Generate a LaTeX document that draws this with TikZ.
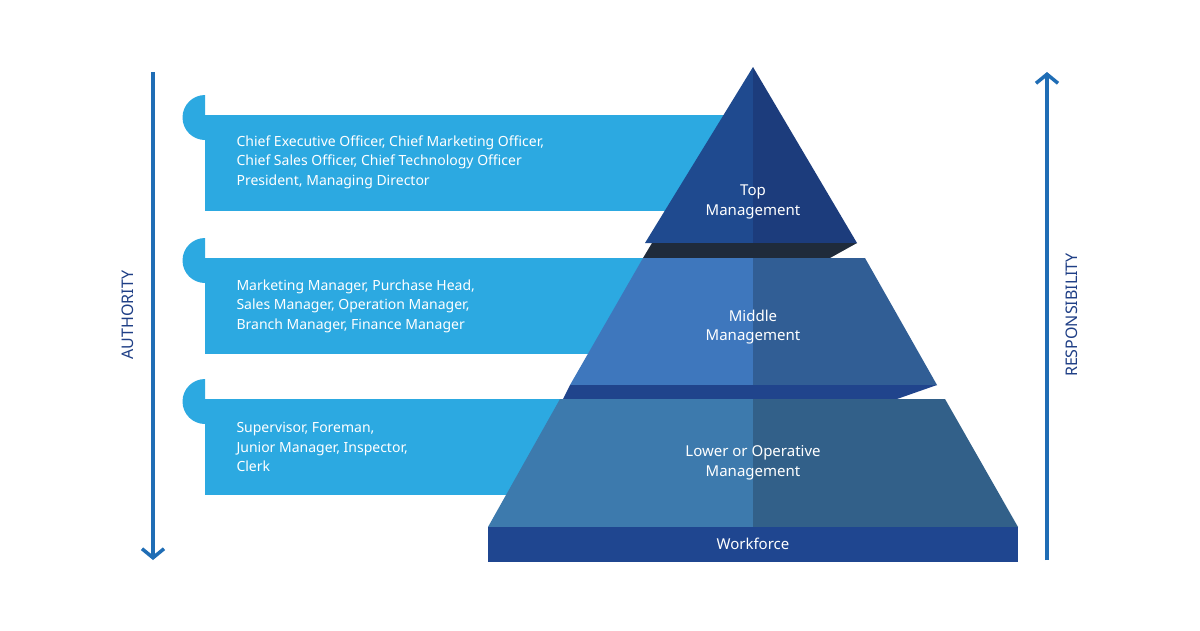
\documentclass[tikz,border=0pt]{standalone}
\usepackage{fontspec}
\setmainfont{Noto Sans}
\usetikzlibrary{arrows.meta}
\definecolor{bandblue}{HTML}{2CA9E1}
\definecolor{axisblue}{HTML}{1F6DB5}
\definecolor{axistext}{HTML}{1F3F86}
\definecolor{topL}{HTML}{1F4A8F}
\definecolor{topR}{HTML}{1C3C7C}
\definecolor{stripA}{HTML}{1F2B3B}
\definecolor{midL}{HTML}{3E77BD}
\definecolor{midR}{HTML}{315E95}
\definecolor{stripB}{HTML}{20448C}
\definecolor{lowL}{HTML}{3D7AAD}
\definecolor{lowR}{HTML}{326089}
\definecolor{workblue}{HTML}{1F4690}
\tikzset{
  axis/.style={draw=axisblue,line width=3.5pt,-{Straight Barb[length=9pt,width=22pt,line width=3.5pt]}},
  axislabel/.style={text=axistext,font=\fontsize{16}{18}\selectfont,rotate=90},
  band/.style={fill=bandblue},
  bandtext/.style={text=white,anchor=west,align=left,font=\fontsize{14}{19.5}\selectfont},
  leveltext/.style={text=white,align=center,font=\fontsize{15}{19.5}\selectfont}
}
\begin{document}
\begin{tikzpicture}[x=1pt,y=-1pt]
\useasboundingbox (0,0) rectangle (1200,630);
\fill[white] (0,0) rectangle (1200,630);

% axes
\coordinate (authTop) at (153,72);
\coordinate (authBot) at (153,560);
\coordinate (respBot) at (1047,560);
\coordinate (respTop) at (1047,72);
\draw[axis] (authTop) -- (authBot);
\draw[axis] (respBot) -- (respTop);
\node[axislabel] (authority) at (128,315) {AUTHORITY};
\node[axislabel] (responsibility) at (1072,315) {RESPONSIBILITY};

% bands
\foreach \y in {115,258,399}{
  \fill[band] (205,\y) rectangle (760,\y+96);
  \fill[band] (205,\y+25) arc (90:270:22.5);
}
\node[bandtext] (topjobs) at (233,162) {Chief Executive Officer, Chief Marketing Officer,\\Chief Sales Officer, Chief Technology Officer\\President, Managing Director};
\node[bandtext] (midjobs) at (233,306) {Marketing Manager, Purchase Head,\\Sales Manager, Operation Manager,\\Branch Manager, Finance Manager};
\node[bandtext] (lowjobs) at (233,447) {Supervisor, Foreman,\\Junior Manager, Inspector,\\Clerk};

% pyramid
\fill[topL] (753,67) -- (645,243) -- (753,243) -- cycle;
\fill[topR] (753,67) -- (857,243) -- (753,243) -- cycle;
\fill[stripA] (652,243) -- (857,243) -- (830,258) -- (643,258) -- cycle;
\fill[midL] (643,258) -- (753,258) -- (753,385) -- (570,385) -- cycle;
\fill[midR] (753,258) -- (865,258) -- (937,385) -- (753,385) -- cycle;
\fill[stripB] (570,385) -- (937,385) -- (897,399) -- (563,399) -- cycle;
\fill[lowL] (560,399) -- (753,399) -- (753,527) -- (488,527) -- cycle;
\fill[lowR] (753,399) -- (945,399) -- (1018,527) -- (753,527) -- cycle;
\fill[workblue] (488,527) rectangle (1018,562);

\node[leveltext] (top) at (753,202) {Top\\Management};
\node[leveltext] (middle) at (753,327) {Middle\\Management};
\node[leveltext] (lower) at (753,463) {Lower or Operative\\Management};
\node[leveltext] (workforce) at (753,544) {Workforce};
\end{tikzpicture}
\end{document}
